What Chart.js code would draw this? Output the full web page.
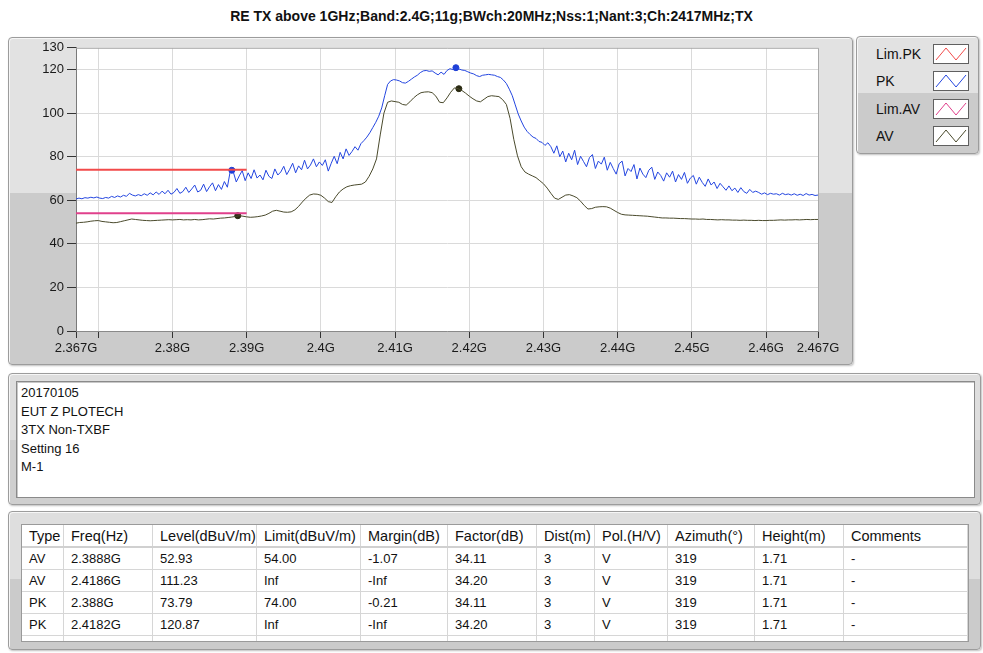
<!DOCTYPE html>
<html>
<head>
<meta charset="utf-8">
<script src="https://cdn.jsdelivr.net/npm/chart.js@4.4.1/dist/chart.umd.min.js"></script>
<style>
  body { margin: 0; width: 983px; height: 653px; background: #fff; position: relative; overflow: hidden;
         font-family: 'Liberation Sans', Arial, sans-serif; color: #111; }
  .frame { position: absolute; box-sizing: border-box; border: 1px solid #9c9c9c; border-radius: 4px;
           box-shadow: inset 1px 1px 0 #f6f6f6, 1px 1px 2px rgba(0,0,0,0.25); }
  #title { position: absolute; left: 0; top: 8px; width: 983px; text-align: center; font-weight: bold;
           font-size: 14px; line-height: 16px; }
  #plotFrame { left: 8px; top: 37px; width: 845px; height: 328px;
               background: linear-gradient(#e2e2e2 0, #e2e2e2 155px, #cbcbcb 155px); }
  #chartBox { position: absolute; left: 8px; top: 37px; width: 844px; height: 327px; }
  #legend { left: 856px; top: 36px; width: 123px; height: 118px;
            background: linear-gradient(#e2e2e2 0, #e2e2e2 56px, #cbcbcb 56px); }
  .lrow { position: absolute; left: 19px; font-size: 14px; line-height: 16px; }
  .swatch { position: absolute; left: 76px; width: 36px; height: 20px; box-sizing: border-box;
            background: #fff; border: 1px solid #606060; }
  #noteFrame { left: 8px; top: 373px; width: 973px; height: 132px;
               background: linear-gradient(#dedede 0, #dedede 66px, #cfcfcf 66px); }
  #notes { position: absolute; left: 16px; top: 381px; width: 959px; height: 117px; box-sizing: border-box;
           background: #fff; border: 1px solid #8a8a8a; box-shadow: inset 1px 1px 0 #c8c8c8;
           padding: 2px 0 0 4px; font-size: 13px; line-height: 18.5px; }
  #tableFrame { left: 8px; top: 511px; width: 973px; height: 139px;
                background: linear-gradient(#dedede 0, #dedede 67px, #cbcbcb 67px); }
  #table { position: absolute; left: 21px; top: 524px; width: 948px; height: 118px; box-sizing: border-box;
           background: #fff; border: 1px solid #9a9a9a; overflow: hidden; }
  .trow { display: flex; box-sizing: border-box; height: 22px; border-bottom: 1px solid #d6d6d6; }
  .trow.head { height: 23px; border-bottom: 2px solid #d0d0d0; font-size: 14.5px; }
  .trow.body { font-size: 13px; }
  .cell { box-sizing: border-box; border-right: 1px solid #d6d6d6; padding-left: 7px; white-space: nowrap;
          overflow: hidden; display: flex; align-items: center; }
</style>
</head>
<body>
<div id="title"></div>
<div class="frame" id="plotFrame"></div>
<div id="chartBox"><canvas id="spectrum"></canvas></div>
<div class="frame" id="legend"></div>
<div class="frame" id="noteFrame"></div>
<div id="notes"></div>
<div class="frame" id="tableFrame"></div>
<div id="table"></div>
<script>
const chartTitle = 'RE TX above 1GHz;Band:2.4G;11g;BWch:20MHz;Nss:1;Nant:3;Ch:2417MHz;TX';

// PK trace, sweep start/step in GHz
const pkStart = 2.367, pkStep = 0.0004;
const pkLevels = [
  60.6, 61.0, 60.7, 61.2, 61.0, 61.4, 61.1, 61.5, 61.0, 60.8,
  61.3, 61.0, 61.8, 61.3, 62.0, 61.5, 62.3, 61.8, 63.2, 62.4,
  62.0, 62.6, 62.1, 63.0, 62.3, 63.4, 62.5, 63.8, 62.7, 64.2,
  63.0, 64.6, 62.8, 63.6, 65.4, 63.2, 64.0, 66.0, 63.6, 65.2,
  67.0, 63.8, 64.6, 67.4, 64.0, 66.2, 68.0, 64.4, 67.2, 65.0,
  68.6, 66.0, 73.6, 73.0, 68.4, 71.2, 73.6, 69.0, 72.6, 70.0,
  74.0, 70.2, 71.6, 69.4, 73.8, 71.0, 70.0, 74.4, 71.6, 73.0,
  75.6, 71.8, 74.2, 77.0, 72.6, 75.8, 74.0, 78.4, 74.4, 76.2,
  79.0, 75.4, 77.6, 76.0, 78.6, 73.4, 77.0, 80.2, 76.8, 82.0,
  79.0, 83.6, 80.6, 82.4, 84.6, 83.0, 86.0, 87.4, 89.0, 91.0,
  93.4, 95.8, 98.6, 102.4, 108.0, 113.2, 114.8, 115.4, 115.2, 114.8,
  114.0, 113.8, 114.6, 115.6, 116.6, 117.4, 118.6, 119.4, 119.6, 119.2,
  119.4, 118.4, 117.6, 118.8, 117.8, 119.6, 120.4, 120.0, 120.9, 120.3,
  119.8, 119.6, 119.0, 118.4, 118.0, 117.2, 116.8, 117.4, 117.6, 117.8,
  117.6, 117.4, 116.8, 116.4, 115.2, 113.6, 111.0, 108.0, 103.8, 99.6,
  96.4, 93.6, 91.6, 90.2, 89.0, 88.4, 87.0, 86.6, 85.2, 86.4,
  84.6, 81.6, 85.0, 80.0, 82.6, 77.6, 81.6, 78.6, 83.0, 76.4,
  80.2, 77.8, 75.4, 79.6, 81.0, 74.6, 78.0, 76.6, 79.8, 73.8,
  77.4, 74.6, 72.0, 76.8, 78.0, 71.2, 74.6, 73.2, 76.4, 69.8,
  74.8, 72.0, 70.4, 73.8, 75.2, 69.6, 73.0, 71.4, 68.8, 72.6,
  70.6, 73.4, 68.4, 71.8, 69.6, 72.8, 67.8, 70.2, 71.4, 67.4,
  70.6, 68.2, 66.4, 69.8, 67.0, 68.4, 65.4, 67.8, 66.2, 64.6,
  66.6, 64.4, 65.6, 63.6, 65.8, 64.0, 63.2, 65.0, 63.6, 64.2,
  63.6, 62.8, 63.4, 62.6, 63.2, 62.8, 63.0, 62.4, 63.2, 62.6,
  62.9, 62.4, 63.0, 62.3, 62.8, 62.2, 63.1, 62.4, 62.7, 62.2, 62.4
];

// AV trace
const avStart = 2.367, avStep = 0.0005;
const avLevels = [
  49.5, 49.8, 49.9, 50.1, 50.4, 50.6, 50.7, 50.3, 50.1, 49.9,
  49.7, 49.8, 50.2, 50.6, 51.0, 51.4, 51.2, 51.0, 50.8, 50.7,
  50.6, 50.7, 50.8, 50.9, 51.0, 51.1, 51.0, 51.1, 51.2, 51.0,
  51.1, 51.0, 51.2, 51.0, 51.1, 51.3, 51.5, 51.4, 51.6, 51.8,
  51.9, 52.1, 52.3, 52.6, 52.9, 52.7, 52.4, 52.2, 52.3, 52.5,
  52.8, 53.2, 54.0, 55.0, 55.4, 55.0, 54.6, 54.5, 54.7, 55.6,
  57.2, 59.2, 61.0, 62.4, 62.9, 62.8, 62.3, 61.0, 59.4, 59.0,
  61.6, 63.8, 65.2, 66.2, 66.7, 67.0, 67.2, 67.4, 68.4, 71.0,
  74.4, 79.0, 90.0, 100.0, 105.0, 105.6, 105.3, 105.0, 104.0, 103.7,
  105.2, 107.0, 108.4, 109.4, 109.7, 109.8, 109.4, 107.8, 105.0, 104.8,
  107.0, 109.6, 111.6, 111.2, 110.4, 109.2, 107.8, 106.6, 105.6, 105.2,
  106.4, 107.6, 108.0, 107.8, 107.6, 106.2, 104.0, 97.6, 88.0, 80.4,
  75.4, 73.0, 72.0, 71.2, 70.4, 69.0, 67.6, 65.6, 63.2, 61.0,
  60.4, 61.4, 62.4, 62.6, 62.0, 61.2, 59.6, 57.6, 56.0, 56.2,
  56.8, 57.0, 57.1, 57.0, 56.4, 55.4, 54.4, 53.6, 53.3, 53.2,
  53.1, 53.0, 52.9, 52.8, 52.7, 52.5, 52.3, 52.1, 51.9, 51.9,
  51.8, 51.8, 51.7, 51.6, 51.6, 51.5, 51.4, 51.4, 51.3, 51.4,
  51.2, 51.2, 51.1, 51.0, 51.1, 51.0, 51.0, 50.9, 50.9, 50.8,
  50.9, 50.8, 50.8, 50.7, 50.8, 50.7, 50.7, 50.8, 50.8, 50.9,
  51.0, 50.9, 51.0, 51.0, 51.1, 51.0, 51.1, 51.2, 51.1, 51.2, 51.2
];

const limitFreqs = [2.367, 2.39];
const limitPK = [74, 74];
const limitAV = [54, 54];

const xTickValues = [2.367, 2.37, 2.38, 2.39, 2.4, 2.41, 2.42, 2.43, 2.44, 2.45, 2.46, 2.467];
const xTickLabels = ['2.367G', '', '2.38G', '2.39G', '2.4G', '2.41G', '2.42G', '2.43G', '2.44G', '2.45G', '2.46G', '2.467G'];
const yTickValues = [0, 20, 40, 60, 80, 100, 120, 130];

const legendNames = ['Lim.PK', 'PK', 'Lim.AV', 'AV'];
const legendColors = ['#f24a4a', '#2446e0', '#e0408c', '#4a4a2c'];

const notes = ['20170105', 'EUT Z PLOTECH', '3TX Non-TXBF', 'Setting 16', 'M-1'];

// marker table
const tableHeaders = ['Type', 'Freq(Hz)', 'Level(dBuV/m)', 'Limit(dBuV/m)', 'Margin(dB)', 'Factor(dB)',
                      'Dist(m)', 'Pol.(H/V)', 'Azimuth(°)', 'Height(m)', 'Comments'];
const markType = ['AV', 'AV', 'PK', 'PK'];
const markFreq = [2.3888, 2.4186, 2.388, 2.4182];
const markFreqText = ['2.3888G', '2.4186G', '2.388G', '2.4182G'];
const markLevel = [52.93, 111.23, 73.79, 120.87];
const markLimit = ['54.00', 'Inf', '74.00', 'Inf'];
const markMargin = ['-1.07', '-Inf', '-0.21', '-Inf'];
const markFactor = ['34.11', '34.20', '34.11', '34.20'];
const markDist = ['3', '3', '3', '3'];
const markPol = ['V', 'V', 'V', 'V'];
const markAzimuth = ['319', '319', '319', '319'];
const markHeight = ['1.71', '1.71', '1.71', '1.71'];
const markComment = ['-', '-', '-', '-'];
const colWidths = [42, 89, 104, 104, 87, 89, 58, 73, 87, 89, 124];

document.getElementById('title').textContent = chartTitle;

// legend
const legend = document.getElementById('legend');
const rowCenters = [17, 44, 72, 99];
legendNames.forEach((name, i) => {
    const lab = document.createElement('div');
    lab.className = 'lrow';
    lab.style.top = (rowCenters[i] - 8) + 'px';
    lab.textContent = name;
    legend.appendChild(lab);
    const sw = document.createElement('div');
    sw.className = 'swatch';
    sw.style.top = (rowCenters[i] - 10) + 'px';
    sw.innerHTML = '<svg width="34" height="18"><polyline points="2,15 12,3 22,15 32,3" fill="none" stroke="' +
        legendColors[i] + '" stroke-width="1"/></svg>';
    legend.appendChild(sw);
});

document.getElementById('notes').innerHTML = notes.map(n => '<div>' + n + '</div>').join('');

// table
function makeRow(cells, cls) {
    const row = document.createElement('div');
    row.className = 'trow ' + cls;
    cells.forEach((c, i) => {
        const d = document.createElement('div');
        d.className = 'cell';
        d.style.width = colWidths[i] + 'px';
        d.textContent = c;
        row.appendChild(d);
    });
    return row;
}
const table = document.getElementById('table');
table.appendChild(makeRow(tableHeaders, 'head'));
for (let i = 0; i < markType.length; i++) {
    table.appendChild(makeRow([markType[i], markFreqText[i], markLevel[i].toFixed(2), markLimit[i], markMargin[i],
        markFactor[i], markDist[i], markPol[i], markAzimuth[i], markHeight[i], markComment[i]], 'body'));
}
table.appendChild(makeRow(tableHeaders.map(() => ''), 'body'));

// chart
const pkData = pkLevels.map((v, i) => ({ x: pkStart + i * pkStep, y: v }));
const avData = avLevels.map((v, i) => ({ x: avStart + i * avStep, y: v }));
const limPkData = limitFreqs.map((f, i) => ({ x: f, y: limitPK[i] }));
const limAvData = limitFreqs.map((f, i) => ({ x: f, y: limitAV[i] }));
const pkMarks = [], avMarks = [];
markType.forEach((t, i) => {
    (t === 'PK' ? pkMarks : avMarks).push({ x: markFreq[i], y: markLevel[i] });
});

const plotBg = {
    id: 'plotBg',
    beforeDraw(chart) {
        const { ctx, chartArea: a } = chart;
        ctx.save();
        ctx.fillStyle = '#fff';
        ctx.fillRect(a.left, a.top, a.right - a.left, a.bottom - a.top);
        ctx.restore();
    },
    afterDraw(chart) {
        const { ctx, chartArea: a } = chart;
        ctx.save();
        ctx.strokeStyle = '#a8a8a8';
        ctx.lineWidth = 1;
        ctx.beginPath();
        ctx.moveTo(a.left, a.top + 0.5);
        ctx.lineTo(a.right + 0.5, a.top + 0.5);
        ctx.lineTo(a.right + 0.5, a.bottom);
        ctx.stroke();
        ctx.restore();
    }
};

Chart.defaults.font.family = "'Liberation Sans', Arial, sans-serif";
Chart.defaults.font.size = 13;
Chart.defaults.color = '#1a1a1a';

const lastX = xTickValues.length - 1;

new Chart(document.getElementById('spectrum'), {
    type: 'line',
    data: {
        datasets: [
            { label: 'Lim.PK', data: limPkData, borderColor: legendColors[0], borderWidth: 2, pointRadius: 0 },
            { label: 'PK', data: pkData, borderColor: legendColors[1], borderWidth: 1, pointRadius: 0 },
            { label: 'Lim.AV', data: limAvData, borderColor: legendColors[2], borderWidth: 2, pointRadius: 0 },
            { label: 'AV', data: avData, borderColor: legendColors[3], borderWidth: 1, pointRadius: 0 },
            { type: 'scatter', label: 'PK marks', data: pkMarks, backgroundColor: '#1e3fd6',
              borderColor: '#1e3fd6', pointRadius: 3 },
            { type: 'scatter', label: 'AV marks', data: avMarks, backgroundColor: '#2a2a12',
              borderColor: '#2a2a12', pointRadius: 3 }
        ]
    },
    options: {
        responsive: true,
        maintainAspectRatio: false,
        animation: false,
        layout: { padding: { left: 0, top: 9, right: 34, bottom: 0 } },
        plugins: { legend: { display: false }, tooltip: { enabled: false } },
        scales: {
            x: {
                type: 'linear',
                min: 2.367,
                max: 2.467,
                afterBuildTicks: (s) => { s.ticks = xTickValues.map(v => ({ value: v })); },
                afterFit: (s) => { s.height = 33; },
                ticks: {
                    autoSkip: false,
                    maxRotation: 0,
                    padding: 3,
                    callback: (v, i) => xTickLabels[i]
                },
                grid: {
                    color: (c) => (c.index === 0 || c.index === lastX) ? 'rgba(0,0,0,0)' : '#dadada',
                    tickColor: '#333',
                    tickLength: 7
                },
                border: { color: '#8a8a8a' }
            },
            y: {
                min: 0,
                max: 130,
                afterBuildTicks: (s) => { s.ticks = yTickValues.map(v => ({ value: v })); },
                afterFit: (s) => { s.width = 68; },
                ticks: { padding: 3 },
                grid: {
                    color: (c) => (c.tick && (c.tick.value === 0 || c.tick.value === 130)) ? 'rgba(0,0,0,0)' : '#dadada',
                    tickColor: '#333',
                    tickLength: 9
                },
                border: { color: '#7a7a7a' }
            }
        }
    },
    plugins: [plotBg]
});
</script>
</body>
</html>
